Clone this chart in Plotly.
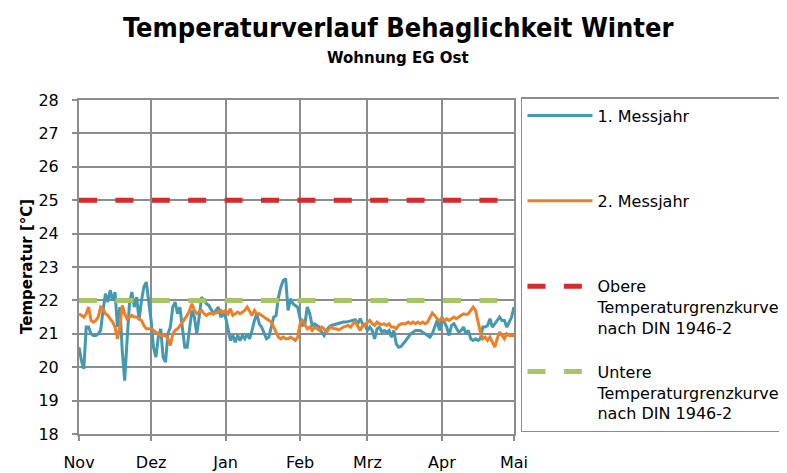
import pandas as pd
import plotly.graph_objects as go

# ---------------- data ----------------
start_date = "2010-11-01"

messjahr_1 = [
    # Nov
    20.6, 20.2, 19.95, 21.2, 21.2, 21.0, 20.95, 20.95, 21.0, 21.1, 21.7, 22.2, 21.95, 22.3, 22.0,
    22.25, 21.2, 21.8, 20.5, 19.6, 20.8, 21.9, 22.25, 21.8, 22.1, 21.4, 22.0, 22.4, 22.55, 22.0,
    # Dez
    21.4, 20.6, 20.3, 20.9, 21.15, 20.3, 20.15, 21.0, 21.2, 21.8, 21.95, 21.6, 21.8, 21.2, 20.6,
    20.6, 21.2, 21.7, 21.5, 21.0, 21.5, 22.1, 22.0, 21.9, 21.85, 21.7, 21.6, 21.7, 21.8, 21.5, 21.6,
    # Jan
    21.5, 21.1, 20.8, 20.95, 20.75, 20.95, 20.8, 20.95, 20.85, 21.0, 20.85, 21.1, 21.4, 21.6, 21.3,
    21.2, 21.0, 20.85, 20.9, 21.25, 21.5, 21.55, 22.1, 22.4, 22.6, 22.65, 21.7, 22.05, 21.9, 21.85,
    # Feb
    21.8, 21.45, 21.25, 21.3, 21.8, 21.6, 21.25, 21.3, 21.25, 21.2, 21.05, 20.95, 21.1, 21.2, 21.25,
    21.27, 21.3, 21.32, 21.33, 21.35, 21.35, 21.37, 21.4, 21.4, 21.42, 21.3, 21.45, 21.3, 21.25,
    # Mrz
    21.1, 21.2, 21.1, 20.85, 21.15, 21.2, 21.05, 21.1, 21.05, 21.1, 20.9, 21.1, 20.7, 20.6, 20.62,
    20.7, 20.8, 20.9, 21.0, 21.05, 21.1, 21.1, 21.1, 21.05, 21.0, 20.95, 20.9, 21.0, 21.2, 21.4, 21.1,
    # Apr
    21.5, 21.35, 21.2, 20.95, 21.25, 21.3, 21.15, 21.05, 21.1, 21.2, 21.0, 21.1, 20.85, 20.8, 20.85,
    20.8, 20.85, 21.2, 21.2, 21.25, 21.45, 21.2, 21.3, 21.4, 21.5, 21.4, 21.4, 21.2, 21.35, 21.5, 21.8,
]

messjahr_2 = [
    # Nov
    21.6, 21.55, 21.5, 21.6, 21.8, 21.4, 21.35, 21.4, 21.5, 21.8, 21.75, 21.6, 21.55, 21.45, 21.35,
    21.2, 20.85, 21.2, 21.85, 21.6, 21.45, 21.5, 21.55, 21.5, 21.5, 21.45, 21.4, 21.25, 21.15, 21.15,
    # Dez
    21.15, 21.1, 21.05, 21.0, 20.95, 20.95, 20.95, 20.85, 20.65, 21.0, 21.1, 21.15, 21.25, 21.35, 21.45,
    21.55, 21.7, 21.9, 21.7, 21.6, 21.65, 21.7, 21.6, 21.55, 21.6, 21.6, 21.6, 21.62, 21.65, 21.7, 21.65,
    # Jan
    21.7, 21.6, 21.75, 21.55, 21.6, 21.65, 21.6, 21.65, 21.7, 21.8, 21.65, 21.55, 21.7, 21.6, 21.6,
    21.55, 21.5, 21.45, 21.4, 21.35, 21.2, 21.05, 20.9, 20.85, 20.9, 20.85, 20.85, 20.9, 20.85, 20.8,
    # Feb
    20.9, 21.3, 21.4, 21.25, 21.15, 21.2, 21.1, 21.2, 21.15, 21.1, 21.2, 21.15, 21.05, 21.15, 21.2,
    21.15, 21.15, 21.12, 21.15, 21.2, 21.22, 21.25, 21.2, 21.3, 21.35, 21.2, 21.1, 21.25, 21.25,
    # Mrz
    21.35, 21.4, 21.3, 21.25, 21.35, 21.3, 21.28, 21.3, 21.25, 21.3, 21.2, 21.2, 21.15, 21.25, 21.3,
    21.3, 21.3, 21.35, 21.3, 21.35, 21.3, 21.35, 21.3, 21.35, 21.3, 21.35, 21.5, 21.62, 21.55, 21.45, 21.4,
    # Apr
    21.45, 21.4, 21.45, 21.4, 21.45, 21.5, 21.45, 21.5, 21.55, 21.6, 21.58, 21.6, 21.7, 21.8, 21.7,
    21.4, 21.05, 20.85, 20.9, 20.8, 20.9, 20.75, 20.6, 20.85, 21.05, 20.95, 20.85, 21.0, 20.95, 20.95, 20.95,
]

limit_dates = ["2010-11-01", "2011-05-01"]
obere_grenze = [25, 25]
untere_grenze = [22, 22]

month_ticks = ["2010-11-01", "2010-12-01", "2011-01-01", "2011-02-01",
               "2011-03-01", "2011-04-01", "2011-05-01"]
month_labels = ["Nov", "Dez", "Jan", "Feb", "Mrz", "Apr", "Mai"]

series_names = [
    "1. Messjahr<br> <br> ",
    "2. Messjahr<br> <br> ",
    "Obere<br>Temperaturgrenzkurve<br>nach DIN 1946-2",
    "Untere<br>Temperaturgrenzkurve<br>nach DIN 1946-2",
]

dates = pd.date_range(start_date, periods=len(messjahr_1), freq="D")

# ---------------- figure ----------------
FONT = "DejaVu Sans"
GRID = "#8c8c8c"
W, H = 779, 465  # page body adds an 8px offset in the 787x473 window

fig = go.Figure()
fig.add_trace(go.Scatter(x=dates, y=messjahr_1, mode="lines", name=series_names[0],
                         legendgroup="a", line=dict(color="#4399b2", width=3)))
fig.add_trace(go.Scatter(x=dates, y=messjahr_2, mode="lines", name=series_names[1],
                         legendgroup="b", line=dict(color="#ef7f26", width=3)))
fig.add_trace(go.Scatter(x=limit_dates, y=obere_grenze, mode="lines", name=series_names[2],
                         legendgroup="c", line=dict(color="#d62a2c", width=5, dash="18px,18.4px")))
fig.add_trace(go.Scatter(x=limit_dates, y=untere_grenze, mode="lines", name=series_names[3],
                         legendgroup="d", line=dict(color="#a6c566", width=5, dash="18px,18.4px")))

fig.update_layout(
    width=W, height=H,
    margin=dict(l=71, r=273, t=92, b=39, autoexpand=False),
    paper_bgcolor="white", plot_bgcolor="white",
    font=dict(family=FONT, size=16, color="black"),
    showlegend=True,
    legend=dict(
        x=1.016, xanchor="left", yref="container", y=1 - 89 / H, yanchor="top",
        maxheight=0.95,
        bordercolor=GRID, borderwidth=1.5, bgcolor="white",
        traceorder="grouped", tracegroupgap=20, valign="top",
        itemwidth=65, font=dict(family=FONT, size=16),
    ),
    annotations=[
        dict(text="<b>Temperaturverlauf Behaglichkeit Winter</b>", xref="paper", yref="paper",
             x=0.733, y=1.2156, xanchor="center", yanchor="middle", showarrow=False,
             font=dict(family="DejaVu Sans Condensed, DejaVu Sans", size=27)),
        dict(text="<b>Wohnung EG Ost</b>", xref="paper", yref="paper",
             x=0.733, y=1.1257, xanchor="center", yanchor="middle", showarrow=False,
             font=dict(family=FONT, size=15)),
        dict(text="<b>Temperatur [°C]</b>", xref="paper", yref="paper",
             x=-0.1195, y=0.5, xanchor="center", yanchor="middle", showarrow=False,
             textangle=-90, font=dict(family=FONT, size=15)),
    ],
)

fig.update_xaxes(
    type="date", range=[month_ticks[0], month_ticks[-1]],
    tickmode="array", tickvals=month_ticks, ticktext=month_labels,
    showgrid=True, gridcolor=GRID, gridwidth=2,
    showline=True, linecolor=GRID, linewidth=2, mirror=True,
    ticks="outside", ticklen=5, tickcolor=GRID, tickwidth=2,
    ticklabelstandoff=8, tickfont=dict(family=FONT, size=16),
)
fig.update_yaxes(
    range=[18, 28], dtick=1, tick0=18,
    showgrid=True, gridcolor=GRID, gridwidth=2,
    showline=True, linecolor=GRID, linewidth=2, mirror=True,
    ticks="outside", ticklen=5, tickcolor=GRID, tickwidth=2,
    ticklabelstandoff=10, tickfont=dict(family=FONT, size=16), zeroline=False,
)

fig.write_html("out.html")
